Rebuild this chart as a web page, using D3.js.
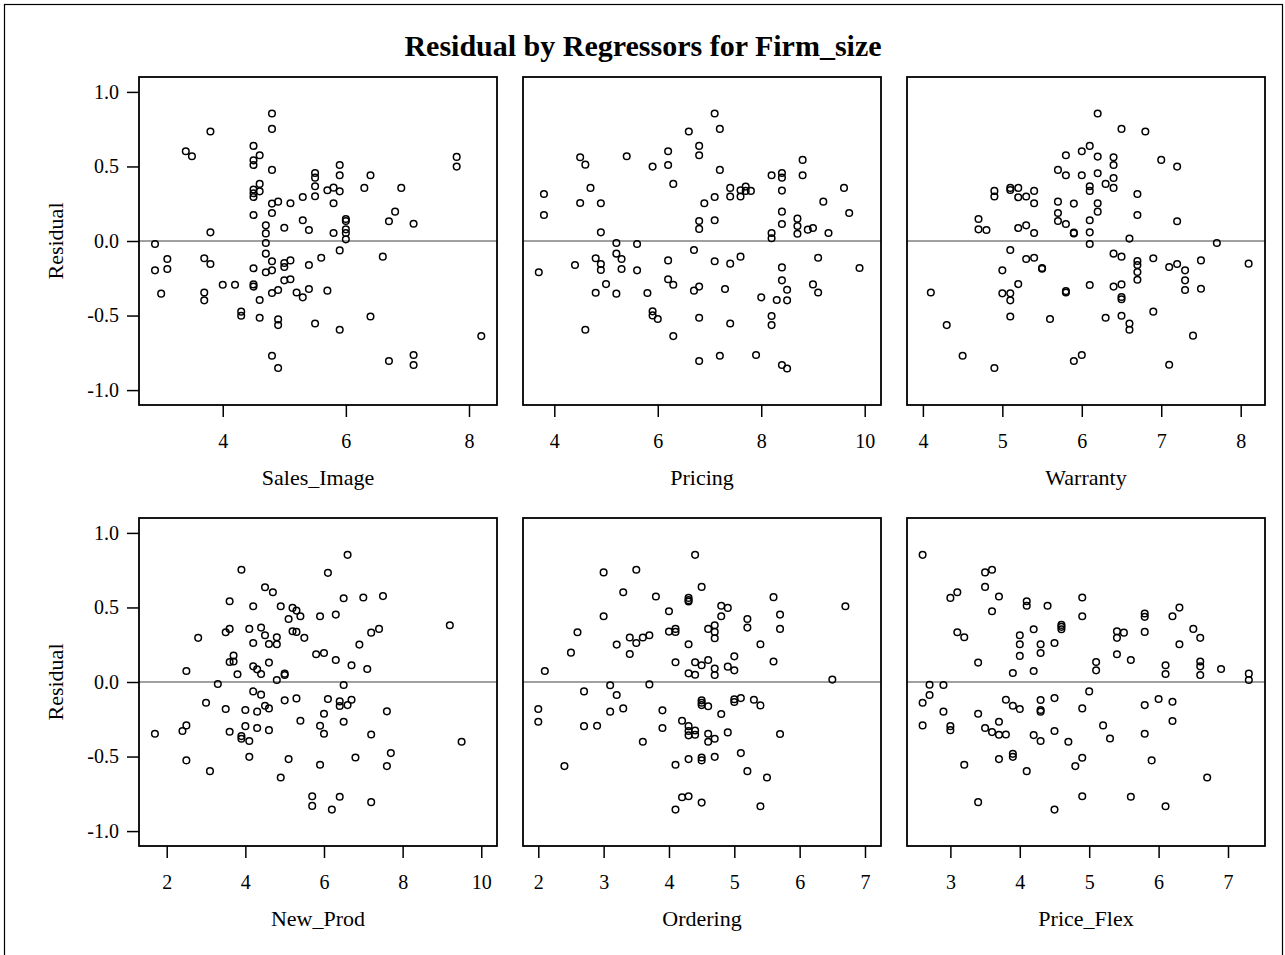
<!DOCTYPE html>
<meta charset="utf-8">
<style>
body { margin: 0; background: #fff; }
svg { display: block; font-family: "Liberation Serif", "Times New Roman", serif; }
.tick text { font-family: "Liberation Serif", "Times New Roman", serif; font-size: 20px; fill: #000; }
.tick line { stroke: #000; stroke-width: 1.5px; }
</style>
<body>
<script src="https://cdn.jsdelivr.net/npm/d3@7"></script>
<script>

var width = 1285, height = 955;

// regressor names, one panel each (row by row)
var regressors = ["Sales_Image", "Pricing", "Warranty", "New_Prod", "Ordering", "Price_Flex"];

// x tick values for each panel
var xTicks = [
  [4, 6, 8],
  [4, 6, 8, 10],
  [4, 5, 6, 7, 8],
  [2, 4, 6, 8, 10],
  [2, 3, 4, 5, 6, 7],
  [3, 4, 5, 6, 7]
];
var yTicks = [-1.0, -0.5, 0.0, 0.5, 1.0];

// x axis ranges
var xDomains = [
  [2.64, 8.455],
  [3.395, 10.315],
  [3.80, 8.306],
  [1.295, 10.40],
  [1.766, 7.245],
  [2.375, 7.533]
];
var yDomain = [-1.1, 1.1];

// [regressor value, residual]
var salesImage = [[4.8,0.855],[4.8,0.752],[3.8,0.734],[3.4,0.602],[3.5,0.568],[4.5,0.638],[4.6,0.575],[4.5,0.541],[4.5,0.510],[4.8,0.477],[7.8,0.564],[7.8,0.499],[5.9,0.510],[5.5,0.456],[5.5,0.425],[5.9,0.441],[6.4,0.441],[4.6,0.383],[4.6,0.333],[4.5,0.345],[4.5,0.320],[4.5,0.295],[5.5,0.367],[5.7,0.340],[5.8,0.358],[5.9,0.333],[6.3,0.356],[6.9,0.356],[5.5,0.300],[5.3,0.295],[4.8,0.251],[4.9,0.264],[5.1,0.253],[5.8,0.253],[4.5,0.174],[4.8,0.188],[6.8,0.197],[4.7,0.105],[4.7,0.051],[5.0,0.089],[5.3,0.139],[5.4,0.074],[6.0,0.148],[6.0,0.134],[6.0,0.078],[6.0,0.054],[6.0,0.011],[5.8,0.054],[6.7,0.132],[7.1,0.116],[3.8,0.058],[2.9,-0.020],[4.7,-0.013],[4.7,-0.085],[5.9,-0.063],[6.6,-0.105],[3.1,-0.121],[3.1,-0.188],[2.9,-0.197],[3.7,-0.116],[3.8,-0.154],[4.8,-0.136],[5.0,-0.148],[5.0,-0.174],[5.1,-0.130],[5.6,-0.112],[5.4,-0.161],[4.5,-0.183],[4.7,-0.210],[4.8,-0.197],[5.0,-0.264],[5.1,-0.257],[4.0,-0.293],[4.2,-0.293],[4.5,-0.291],[4.5,-0.306],[4.8,-0.349],[4.9,-0.329],[5.2,-0.345],[5.3,-0.378],[5.4,-0.322],[5.7,-0.333],[3.0,-0.353],[3.7,-0.345],[3.7,-0.398],[4.6,-0.396],[4.3,-0.474],[4.3,-0.501],[4.6,-0.515],[4.9,-0.526],[4.9,-0.564],[5.5,-0.553],[5.9,-0.595],[6.4,-0.506],[8.2,-0.638],[4.8,-0.770],[4.9,-0.852],[6.7,-0.805],[7.1,-0.765],[7.1,-0.832]];

var pricing = [[7.1,0.855],[7.2,0.752],[6.6,0.734],[6.8,0.638],[6.8,0.575],[6.2,0.602],[6.2,0.510],[5.9,0.499],[5.4,0.568],[4.5,0.562],[4.6,0.512],[7.2,0.477],[6.3,0.383],[8.8,0.544],[8.8,0.441],[8.2,0.441],[8.4,0.456],[8.4,0.425],[4.7,0.356],[3.8,0.315],[3.8,0.174],[4.5,0.255],[4.9,0.253],[7.4,0.356],[7.4,0.298],[7.6,0.340],[7.6,0.298],[7.7,0.365],[7.7,0.336],[7.8,0.336],[7.1,0.295],[6.9,0.253],[8.4,0.338],[9.6,0.356],[9.2,0.264],[9.7,0.188],[8.4,0.197],[6.8,0.134],[6.8,0.081],[7.1,0.139],[8.7,0.150],[8.7,0.101],[8.7,0.049],[8.9,0.076],[9.0,0.087],[8.4,0.114],[8.2,0.054],[8.2,0.018],[9.3,0.054],[4.9,0.058],[5.2,-0.013],[5.6,-0.020],[5.2,-0.085],[6.7,-0.060],[4.8,-0.116],[4.9,-0.154],[4.9,-0.195],[5.3,-0.121],[5.3,-0.188],[4.4,-0.161],[3.7,-0.210],[5.6,-0.197],[6.2,-0.130],[7.1,-0.136],[7.4,-0.152],[7.6,-0.105],[9.1,-0.112],[9.9,-0.181],[8.4,-0.177],[5.0,-0.289],[4.8,-0.347],[5.2,-0.353],[5.8,-0.349],[6.2,-0.257],[6.3,-0.293],[6.7,-0.333],[6.8,-0.306],[7.3,-0.322],[8.4,-0.264],[8.5,-0.327],[9.0,-0.291],[9.1,-0.345],[8.0,-0.378],[8.3,-0.396],[8.5,-0.398],[5.9,-0.472],[5.9,-0.499],[6.0,-0.523],[6.8,-0.515],[7.4,-0.553],[8.2,-0.503],[8.2,-0.564],[4.6,-0.595],[6.3,-0.638],[6.8,-0.805],[7.2,-0.770],[7.9,-0.765],[8.4,-0.832],[8.5,-0.855]];

var warranty = [[6.2,0.855],[6.5,0.752],[6.8,0.734],[6.1,0.638],[6.0,0.602],[5.8,0.575],[6.2,0.566],[6.4,0.562],[6.4,0.510],[7.0,0.544],[7.2,0.499],[5.7,0.477],[5.8,0.441],[6.0,0.441],[6.2,0.454],[6.4,0.423],[6.3,0.383],[6.4,0.356],[6.1,0.367],[6.1,0.336],[4.9,0.336],[4.9,0.298],[5.1,0.356],[5.1,0.342],[5.2,0.356],[5.2,0.293],[5.3,0.298],[5.4,0.336],[5.4,0.253],[6.7,0.315],[5.7,0.264],[5.9,0.251],[6.2,0.253],[6.2,0.197],[6.7,0.174],[5.7,0.188],[5.7,0.134],[5.8,0.114],[6.1,0.139],[5.9,0.056],[5.9,0.051],[6.1,0.058],[4.7,0.148],[4.7,0.078],[4.8,0.074],[5.2,0.087],[5.3,0.105],[5.4,0.054],[7.2,0.132],[6.6,0.016],[7.7,-0.013],[6.1,-0.020],[5.1,-0.060],[6.4,-0.085],[6.5,-0.105],[5.3,-0.121],[5.4,-0.112],[5.5,-0.181],[5.5,-0.186],[5.0,-0.197],[5.2,-0.289],[6.7,-0.134],[6.7,-0.161],[6.7,-0.208],[6.7,-0.260],[6.9,-0.116],[7.1,-0.174],[7.2,-0.154],[7.3,-0.197],[7.3,-0.264],[7.3,-0.329],[7.5,-0.130],[7.5,-0.320],[8.1,-0.152],[6.1,-0.295],[6.4,-0.306],[6.5,-0.291],[5.8,-0.336],[5.8,-0.345],[5.0,-0.351],[5.1,-0.351],[5.1,-0.398],[6.5,-0.376],[6.5,-0.391],[4.1,-0.345],[5.1,-0.506],[5.6,-0.523],[6.3,-0.515],[6.5,-0.501],[6.6,-0.553],[6.6,-0.595],[6.9,-0.474],[7.4,-0.635],[4.3,-0.564],[4.5,-0.770],[4.9,-0.852],[5.9,-0.805],[6.0,-0.765],[7.1,-0.830]];

var newProd = [[6.6,0.853],[3.9,0.753],[6.1,0.732],[4.5,0.636],[4.7,0.602],[3.6,0.542],[4.2,0.508],[4.9,0.508],[5.2,0.497],[5.3,0.479],[5.4,0.441],[5.1,0.423],[5.9,0.441],[6.3,0.452],[6.5,0.562],[7.0,0.567],[7.5,0.576],[9.2,0.381],[2.8,0.296],[3.5,0.334],[3.6,0.356],[4.1,0.356],[4.4,0.365],[4.5,0.314],[4.8,0.300],[4.6,0.255],[4.8,0.253],[4.2,0.262],[5.2,0.340],[5.3,0.336],[5.5,0.296],[7.2,0.331],[7.4,0.356],[6.9,0.251],[3.7,0.177],[3.6,0.134],[3.7,0.137],[5.8,0.186],[6.0,0.195],[6.3,0.148],[6.7,0.112],[7.1,0.087],[2.5,0.074],[3.8,0.052],[4.2,0.105],[4.3,0.085],[4.4,0.054],[4.6,0.130],[4.8,0.013],[5.0,0.056],[5.0,0.047],[3.3,-0.013],[6.5,-0.020],[4.2,-0.063],[4.4,-0.085],[3.0,-0.139],[3.5,-0.181],[4.0,-0.188],[4.3,-0.199],[4.5,-0.159],[4.6,-0.177],[5.0,-0.123],[5.3,-0.110],[6.1,-0.114],[6.4,-0.130],[6.4,-0.161],[6.6,-0.155],[6.7,-0.119],[6.0,-0.213],[7.6,-0.197],[5.4,-0.260],[5.9,-0.293],[6.5,-0.267],[6.0,-0.347],[2.5,-0.291],[2.4,-0.329],[1.7,-0.347],[3.6,-0.334],[4.0,-0.296],[3.9,-0.363],[3.9,-0.381],[4.1,-0.396],[4.3,-0.309],[4.6,-0.323],[7.2,-0.352],[9.5,-0.401],[2.5,-0.526],[3.1,-0.598],[4.1,-0.502],[5.1,-0.517],[5.9,-0.555],[6.8,-0.506],[7.6,-0.564],[7.7,-0.477],[4.9,-0.641],[5.7,-0.766],[5.7,-0.831],[6.4,-0.770],[6.2,-0.856],[7.2,-0.806]];

var ordering = [[4.4,0.853],[3.0,0.735],[3.5,0.753],[4.5,0.638],[3.3,0.602],[3.8,0.573],[4.3,0.564],[4.3,0.549],[4.3,0.540],[5.6,0.569],[4.8,0.511],[4.9,0.497],[6.7,0.508],[4.0,0.475],[3.0,0.441],[4.8,0.441],[5.2,0.423],[5.7,0.452],[4.0,0.338],[4.1,0.356],[4.1,0.336],[4.6,0.356],[4.7,0.381],[4.7,0.336],[4.7,0.293],[5.2,0.365],[5.7,0.356],[2.6,0.334],[2.5,0.197],[3.4,0.298],[3.5,0.262],[3.6,0.298],[3.7,0.314],[3.2,0.251],[3.4,0.188],[4.3,0.253],[5.4,0.253],[4.1,0.132],[4.4,0.132],[4.5,0.112],[4.6,0.148],[4.7,0.090],[4.7,0.047],[4.3,0.058],[4.4,0.049],[4.9,0.103],[5.0,0.172],[5.0,0.078],[5.6,0.137],[2.1,0.074],[6.5,0.016],[3.1,-0.022],[3.7,-0.016],[2.7,-0.063],[3.2,-0.087],[2.0,-0.181],[2.0,-0.267],[3.1,-0.199],[3.3,-0.177],[3.9,-0.190],[4.5,-0.123],[4.5,-0.139],[4.5,-0.155],[4.6,-0.163],[4.8,-0.215],[5.0,-0.116],[5.0,-0.134],[5.1,-0.108],[5.3,-0.119],[5.4,-0.157],[2.7,-0.296],[2.9,-0.293],[3.9,-0.309],[4.2,-0.260],[4.3,-0.296],[4.3,-0.329],[4.3,-0.358],[4.4,-0.325],[4.4,-0.354],[4.6,-0.347],[4.6,-0.401],[4.7,-0.381],[4.9,-0.338],[5.7,-0.349],[3.6,-0.401],[2.4,-0.564],[4.1,-0.555],[4.3,-0.517],[4.5,-0.506],[4.5,-0.526],[4.7,-0.502],[5.1,-0.477],[5.2,-0.598],[5.5,-0.641],[4.2,-0.773],[4.3,-0.766],[4.5,-0.809],[4.1,-0.856],[5.4,-0.833]];

var priceFlex = [[2.6,0.853],[3.5,0.735],[3.6,0.753],[3.5,0.638],[3.0,0.564],[3.1,0.602],[3.7,0.573],[3.6,0.475],[4.1,0.542],[4.1,0.511],[4.4,0.511],[4.9,0.567],[4.9,0.441],[4.6,0.383],[4.6,0.370],[4.6,0.354],[4.2,0.354],[4.0,0.314],[4.0,0.253],[4.0,0.175],[4.3,0.253],[4.3,0.195],[4.5,0.262],[3.1,0.334],[3.2,0.300],[3.4,0.130],[3.9,0.060],[4.2,0.074],[5.1,0.134],[5.1,0.078],[5.4,0.340],[5.4,0.296],[5.5,0.331],[5.4,0.186],[5.6,0.148],[5.8,0.459],[5.8,0.437],[5.8,0.336],[6.2,0.441],[6.3,0.499],[6.5,0.356],[6.6,0.296],[6.3,0.253],[6.1,0.112],[6.1,0.054],[6.6,0.137],[6.6,0.105],[6.6,0.047],[6.9,0.087],[7.3,0.056],[7.3,0.013],[2.7,-0.018],[2.9,-0.020],[2.7,-0.087],[2.6,-0.139],[2.9,-0.199],[2.6,-0.291],[3.0,-0.296],[3.0,-0.323],[3.4,-0.213],[3.5,-0.309],[3.6,-0.336],[3.7,-0.354],[3.8,-0.352],[3.7,-0.267],[3.8,-0.119],[3.9,-0.159],[4.0,-0.181],[4.3,-0.121],[4.3,-0.188],[4.3,-0.199],[4.5,-0.108],[4.9,-0.177],[5.0,-0.063],[4.2,-0.356],[4.3,-0.396],[4.5,-0.329],[4.7,-0.401],[5.2,-0.291],[5.3,-0.379],[5.8,-0.155],[6.0,-0.114],[6.2,-0.132],[6.2,-0.262],[5.8,-0.347],[3.2,-0.555],[3.7,-0.517],[3.9,-0.482],[3.9,-0.502],[4.1,-0.598],[4.8,-0.564],[4.9,-0.508],[5.9,-0.526],[6.7,-0.641],[3.4,-0.806],[4.5,-0.856],[4.9,-0.766],[5.6,-0.770],[6.1,-0.833]];

var panelData = [salesImage, pricing, warranty, newProd, ordering, priceFlex];

// layout
var colLeft = [139, 523, 907],
    rowTop = [77, 518],
    pw = 358,
    ph = 328;

var svg = d3.select("body").append("svg")
    .attr("width", width)
    .attr("height", height);

// outer frame
svg.append("rect")
    .attr("x", 4.5).attr("y", 4.5)
    .attr("width", 1278).attr("height", 980)
    .attr("fill", "none")
    .attr("stroke", "#000")
    .attr("stroke-width", 1.2);

svg.append("text")
    .attr("x", 643)
    .attr("y", 56)
    .attr("text-anchor", "middle")
    .style("font-size", "30px")
    .style("font-weight", "bold")
    .text("Residual by Regressors for Firm_size");

var fmt = function(d) { return d.toFixed(1); };

regressors.forEach(function(name, i) {
  var col = i % 3, row = Math.floor(i / 3);
  var g = svg.append("g")
      .attr("transform", "translate(" + colLeft[col] + "," + rowTop[row] + ")");

  var x = d3.scaleLinear().domain(xDomains[i]).range([0, pw]);
  var y = d3.scaleLinear().domain(yDomain).range([ph, 0]);

  // zero reference line
  g.append("line")
      .attr("x1", 0).attr("x2", pw)
      .attr("y1", y(0)).attr("y2", y(0))
      .attr("stroke", "#808080")
      .attr("stroke-width", 1.6);

  g.selectAll(".pt")
      .data(panelData[i])
    .enter().append("circle")
      .attr("class", "pt")
      .attr("cx", function(d) { return x(d[0]); })
      .attr("cy", function(d) { return y(d[1]); })
      .attr("r", 3.3)
      .attr("fill", "none")
      .attr("stroke", "#000")
      .attr("stroke-width", 1.5);

  g.append("rect")
      .attr("width", pw).attr("height", ph)
      .attr("fill", "none")
      .attr("stroke", "#000")
      .attr("stroke-width", 1.8);

  var xa = g.append("g")
      .attr("transform", "translate(0," + ph + ")")
      .call(d3.axisBottom(x).tickValues(xTicks[i]).tickSize(12).tickPadding(17).tickFormat(d3.format("d")));
  xa.select(".domain").remove();

  if (col === 0) {
    var ya = g.append("g")
        .call(d3.axisLeft(y).tickValues(yTicks).tickSize(12).tickPadding(8).tickFormat(fmt));
    ya.select(".domain").remove();

    g.append("text")
        .attr("transform", "translate(-76," + (ph / 2) + ") rotate(-90)")
        .attr("text-anchor", "middle")
        .style("font-size", "22px")
        .text("Residual");
  }

  g.append("text")
      .attr("x", pw / 2)
      .attr("y", ph + 80)
      .attr("text-anchor", "middle")
      .style("font-size", "22px")
      .text(name);
});

</script>
</body>
